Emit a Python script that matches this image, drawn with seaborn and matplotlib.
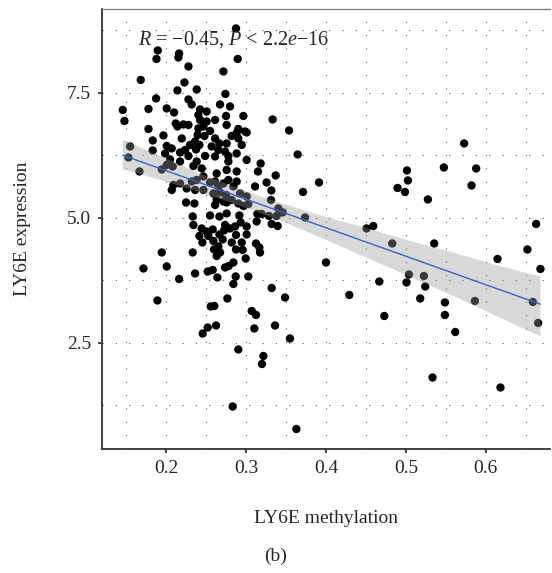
import numpy as np
import seaborn as sns
import matplotlib
matplotlib.use('Agg')
import matplotlib.pyplot as plt
from matplotlib.collections import PolyCollection
from matplotlib.ticker import MultipleLocator

# LY6E methylation (beta value) vs expression
methylation = [
    0.2875, 0.1896, 0.188, 0.2163, 0.2154, 0.2896, 0.228, 0.2717, 0.1683, 0.223,
    0.2142, 0.2383, 0.2742, 0.1875, 0.228, 0.232, 0.2425, 0.2675, 0.1458, 0.178,
    0.2008, 0.21, 0.2404, 0.2508, 0.275, 0.2967, 0.1479, 0.2121, 0.2217, 0.2425,
    0.2508, 0.2613, 0.2142, 0.228, 0.2404, 0.2467, 0.2758, 0.178, 0.255, 0.2904,
    0.2988, 0.1967, 0.2196, 0.2396, 0.248, 0.2613, 0.2821, 0.2904, 0.2363, 0.2667,
    0.2758, 0.1833, 0.23, 0.2417, 0.257, 0.2946, 0.2008, 0.155, 0.2071, 0.1833,
    0.2238, 0.2375, 0.2654, 0.2738, 0.1988, 0.2175, 0.228, 0.2488, 0.2613, 0.2779,
    0.2883, 0.3008, 0.1529, 0.205, 0.2175, 0.2383, 0.2779, 0.1667, 0.1946, 0.2008,
    0.2083, 0.2342, 0.2446, 0.2633, 0.2758, 0.2883, 0.2175, 0.2092, 0.2071, 0.2321,
    0.2383, 0.2467, 0.255, 0.2613, 0.2654, 0.2717, 0.2779, 0.2842, 0.2883, 0.2258,
    0.2363, 0.2467, 0.2592, 0.2675, 0.275, 0.2925, 0.3008, 0.2633, 0.2717, 0.282,
    0.225, 0.2354, 0.2904, 0.2967,
    0.3333, 0.3538, 0.3646, 0.3183, 0.315, 0.3371, 0.3258, 0.3913, 0.3113, 0.3317,
    0.3713, 0.3313, 0.28, 0.3008, 0.2883,
    0.2613, 0.2758, 0.2333, 0.255, 0.2667, 0.2758, 0.2917, 0.3008, 0.2342, 0.2446,
    0.2508, 0.2583, 0.2738, 0.28, 0.2863, 0.2933, 0.2417, 0.2529, 0.2667, 0.2725,
    0.2875, 0.3008, 0.2454, 0.2592, 0.2708, 0.2821, 0.2946, 0.2654, 0.26, 0.2875,
    0.2958, 0.1946, 0.2333, 0.2675, 0.2633, 0.2996, 0.2842, 0.1717, 0.2008, 0.2363,
    0.2521, 0.2583, 0.2738, 0.2783, 0.2642, 0.2163, 0.2871, 0.2842, 0.3029, 0.1892,
    0.2767, 0.2558, 0.2604, 0.3071, 0.2625, 0.2521, 0.2458, 0.2904, 0.2833,
    0.3029, 0.3142, 0.3196, 0.3288, 0.3383, 0.3404, 0.3458, 0.3738, 0.3133, 0.3321,
    0.3396, 0.4508, 0.4592, 0.3125, 0.3167, 0.3175, 0.40, 0.3321, 0.3488, 0.4292,
    0.4667, 0.3125, 0.3363, 0.3104, 0.355, 0.3217, 0.32, 0.363,
    0.5729, 0.5475, 0.5879, 0.5013, 0.5025, 0.4896, 0.4988, 0.5821, 0.5275, 0.4829,
    0.5354, 0.6629, 0.652, 0.6146, 0.6683, 0.5038, 0.5008, 0.5225, 0.5242, 0.5179,
    0.5488, 0.5863, 0.6588, 0.473, 0.5488, 0.5617, 0.6654, 0.5333, 0.6183,
]
expression = [
    8.79, 8.35, 8.18, 8.29, 8.21, 8.18, 8.03, 7.93, 7.76, 7.71,
    7.55, 7.57, 7.48, 7.39, 7.37, 7.27, 7.17, 7.27, 7.16, 7.18,
    7.19, 7.11, 7.06, 7.13, 7.04, 7.04, 6.94, 6.89, 6.87, 6.96,
    6.93, 6.96, 6.83, 6.86, 6.79, 6.83, 6.86, 6.78, 6.74, 6.78,
    6.73, 6.65, 6.59, 6.66, 6.64, 6.59, 6.64, 6.59, 6.53, 6.49,
    6.49, 6.55, 6.46, 6.46, 6.43, 6.46, 6.44, 6.43, 6.39, 6.35,
    6.36, 6.37, 6.36, 6.33, 6.29, 6.31, 6.24, 6.24, 6.23, 6.24,
    6.29, 6.16, 6.21, 6.17, 6.13, 6.13, 6.13, 5.93, 5.97, 6.06,
    6.03, 6.04, 5.99, 5.89, 5.96, 5.93, 5.69, 5.66, 5.56, 5.73,
    5.76, 5.83, 5.71, 5.73, 5.63, 5.69, 5.76, 5.63, 5.73, 5.59,
    5.56, 5.56, 5.49, 5.51, 5.46, 5.49, 5.43, 5.36, 5.33, 5.36,
    5.31, 5.29, 5.29, 5.24,
    6.97, 6.75, 6.27, 6.09, 5.93, 5.85, 5.71, 5.71, 5.63, 5.55,
    5.52, 5.36, 7.23, 6.71, 6.70,
    5.26, 5.31, 5.03, 5.05, 5.03, 5.09, 5.05, 4.83, 4.86, 4.79,
    4.73, 4.77, 4.86, 4.79, 4.83, 4.91, 4.64, 4.64, 4.67, 4.75,
    4.66, 4.67, 4.51, 4.54, 4.57, 4.51, 4.51, 4.43, 4.37, 4.37,
    4.36, 4.31, 4.31, 4.31, 4.24, 4.19, 4.11, 3.99, 4.03, 3.89,
    3.93, 3.96, 4.01, 4.04, 3.81, 3.78, 3.83, 3.68, 3.83, 3.35,
    3.39, 3.23, 3.24, 3.14, 2.85, 2.81, 2.69, 2.37, 1.23,
    5.28, 5.08, 5.08, 5.04, 5.04, 5.19, 5.11, 5.01, 4.93, 4.88,
    4.84, 4.79, 4.84, 4.49, 4.41, 4.31, 4.11, 3.60, 3.41, 3.46,
    3.73, 3.06, 2.85, 2.79, 2.59, 2.24, 2.08, 0.78,
    6.49, 6.01, 5.99, 5.95, 5.75, 5.60, 5.52, 5.65, 5.37, 4.49,
    4.49, 4.88, 4.37, 4.18, 3.98, 3.87, 3.71, 3.84, 3.63, 3.39,
    3.31, 3.34, 3.32, 3.04, 3.06, 2.72, 2.90, 1.81, 1.61,
]

sns.set_style('white')
plt.rcParams['font.family'] = ['Liberation Serif', 'DejaVu Serif']
plt.rcParams['mathtext.fontset'] = 'custom'
plt.rcParams['mathtext.rm'] = 'Liberation Serif'
plt.rcParams['mathtext.it'] = 'Liberation Serif:italic'

fig = plt.figure(figsize=(5.52, 5.73), dpi=100)
ax = fig.add_axes([0.185, 0.2164, 0.811, 0.768])

sns.scatterplot(x=methylation, y=expression, ax=ax, color='black', s=36,
                edgecolor='none', zorder=2)
sns.regplot(x=np.array(methylation), y=np.array(expression), ax=ax, scatter=False,
            ci=95, seed=1, color='#4060D0', line_kws={'lw': 1.0, 'zorder': 4})

# ggplot-like grey ribbon drawn over the points
for c in ax.collections:
    if isinstance(c, PolyCollection):
        c.set_facecolor('#9a9a9a')
        c.set_edgecolor('none')
        c.set_alpha(0.38)
        c.set_zorder(3)

ax.set_xlim(0.12, 0.68)
ax.set_ylim(0.38, 9.18)
ax.xaxis.set_major_locator(MultipleLocator(0.1))
ax.xaxis.set_minor_locator(MultipleLocator(0.05))
ax.yaxis.set_major_locator(MultipleLocator(2.5))
ax.yaxis.set_minor_locator(MultipleLocator(1.25))
ax.set_yticks([2.5, 5.0, 7.5])
ax.set_yticklabels(['2.5', '5.0', '7.5'])

ax.grid(True, which='both', color='#555555', linestyle=(0, (1, 11)), linewidth=0.8)
ax.set_axisbelow(True)

ax.tick_params(axis='both', which='major', length=3, width=1.2, color='#222222',
               labelsize=14, pad=5, direction='out', bottom=True, left=True)
ax.tick_params(axis='both', which='minor', length=0)

for side in ['left', 'bottom']:
    ax.spines[side].set_color('#333333')
    ax.spines[side].set_linewidth(1.3)
ax.spines['top'].set_color('#777777')
ax.spines['top'].set_linewidth(0.9)
ax.spines['right'].set_visible(False)

ax.set_xlabel('LY6E methylation', fontsize=14, labelpad=24)
ax.set_ylabel('LY6E expression', fontsize=14, labelpad=26)

ax.text(0.165, 8.56, r'$R$ = −0.45, $P$ < 2.2$e$−16', fontsize=14.5,
        va='center', ha='left', zorder=5)

fig.text(0.5, 1 - 556 / 573, '(b)', ha='center', va='center', fontsize=14)

fig.savefig('out.png', dpi=100)
